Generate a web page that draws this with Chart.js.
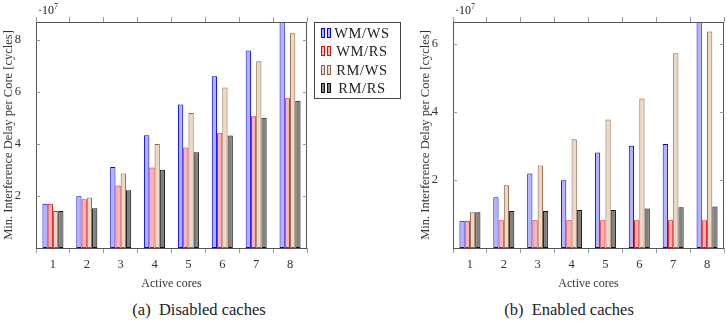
<!DOCTYPE html>
<html>
<head>
<meta charset="utf-8">
<script src="https://cdn.jsdelivr.net/npm/chart.js@4/dist/chart.umd.min.js"></script>
<style>
  body { margin: 0; background: #fff; width: 727px; height: 322px; position: relative; overflow: hidden;
         font-family: "Liberation Serif", "DejaVu Serif", serif; color: #222; }
  canvas { position: absolute; top: 0; }
  .exp { position: absolute; top: 2px; font-size: 12px; }
  .exp sup { font-size: 8px; }
  .caption { position: absolute; top: 300px; font-size: 16.5px; width: 300px; text-align: center; }
  #legend { position: absolute; left: 314px; top: 22px; width: 87px; height: 77px; border: 1px solid #444;
            box-sizing: border-box; font-size: 14.5px; padding-top: 1px; }
  #legend div { height: 18.3px; line-height: 18.3px; white-space: nowrap; padding-left: 6px; }
  #legend span { display: inline-block; width: 58px; text-align: center; letter-spacing: 0.6px; }
  #legend i { display: inline-block; width: 2px; height: 8px; margin-right: 2px; vertical-align: 0px;
              border: 1px solid; }
</style>
</head>
<body>
<canvas id="chartA" width="310" height="300" style="left:0"></canvas>
<canvas id="chartB" width="310" height="300" style="left:417px"></canvas>
<div class="exp" style="left:38px">·10<sup>7</sup></div>
<div class="exp" style="left:455px">·10<sup>7</sup></div>
<div id="legend"></div>
<div class="caption" style="left:49px">(a)&nbsp; Disabled caches</div>
<div class="caption" style="left:419px">(b)&nbsp; Enabled caches</div>
<script>
// categorie (core attivi) e serie, valori in unita' di 1e7 cicli
const cores = ['1', '2', '3', '4', '5', '6', '7', '8'];
const seriesNames = ['WM/WS', 'WM/RS', 'RM/WS', 'RM/RS'];

// (a) cache disabilitate
const disWMWS = [1.70, 1.99, 3.12, 4.34, 5.52, 6.61, 7.60, 8.70];
const disWMRS = [1.70, 1.88, 2.41, 3.10, 3.87, 4.42, 5.07, 5.76];
const disRMWS = [1.42, 1.94, 2.87, 4.00, 5.20, 6.18, 7.19, 8.27];
const disRMRS = [1.42, 1.53, 2.22, 3.01, 3.69, 4.33, 5.01, 5.67];

// (b) cache abilitate
const enWMWS = [0.80, 1.49, 2.19, 1.99, 2.81, 3.01, 3.06, 6.65];
const enWMRS = [0.80, 0.82, 0.82, 0.82, 0.82, 0.82, 0.82, 0.82];
const enRMWS = [1.05, 1.85, 2.43, 3.20, 3.78, 4.40, 5.73, 6.37];
const enRMRS = [1.05, 1.09, 1.09, 1.12, 1.12, 1.16, 1.20, 1.22];

// tick dell'asse y
const ticksA = [2, 4, 6, 8];
const ticksB = [2, 4, 6];

const fills = ['#b3b3ff', '#ffb0b0', '#ecd8c4', '#808080'];
const borders = ['#0000ee', '#e01010', '#8a6440', '#111111'];

// legenda HTML con le due barrette come in pgfplots
const legend = document.getElementById('legend');
seriesNames.forEach((name, i) => {
    const ico = `<i style="background:${fills[i]};border-color:${borders[i]}"></i>`;
    legend.innerHTML += `<div>${ico}${ico}<span>${name}</span></div>`;
});

// cornice e tacche interne sull'asse y
const framePlugin = {
    id: 'frame',
    afterDraw(chart) {
        const {ctx, chartArea: a} = chart;
        const y = chart.scales.y;
        ctx.save();
        ctx.strokeStyle = '#555';
        ctx.lineWidth = 1;
        ctx.strokeRect(a.left + 0.5, a.top + 0.5, a.right - a.left - 1, a.bottom - a.top);
        ctx.strokeStyle = '#999';
        y.ticks.forEach(t => {
            const py = Math.round(y.getPixelForValue(t.value)) + 0.5;
            ctx.beginPath();
            ctx.moveTo(a.left, py); ctx.lineTo(a.left + 4, py);
            ctx.moveTo(a.right - 4, py); ctx.lineTo(a.right, py);
            ctx.stroke();
        });
        ctx.restore();
    }
};

function makeChart(id, data, yMax, yTicks) {
    const font = {family: '"Liberation Serif", serif', size: 12.5};
    return new Chart(document.getElementById(id), {
        type: 'bar',
        data: {
            labels: cores,
            datasets: data.map((vals, i) => ({
                label: seriesNames[i],
                data: vals,
                backgroundColor: fills[i],
                borderColor: borders[i],
                borderWidth: 1,
                borderSkipped: false,
                barPercentage: 1,
                categoryPercentage: 0.62
            }))
        },
        options: {
            responsive: false,
            animation: false,
            devicePixelRatio: 1,
            layout: {padding: {left: 0, right: 3, top: 0, bottom: 0}},
            plugins: {legend: {display: false}, tooltip: {enabled: false}},
            scales: {
                x: {
                    type: 'category',
                    offset: true,
                    grid: {offset: true, drawOnChartArea: false, tickLength: 5, color: '#999'},
                    border: {display: false},
                    ticks: {font: font, color: '#333', padding: 4},
                    title: {display: true, text: 'Active cores', font: {family: font.family, size: 12},
                            color: '#333', padding: {top: 0, bottom: 9}},
                    afterFit: s => { s.height = 52; }
                },
                x2: {
                    type: 'category',
                    position: 'top',
                    offset: true,
                    grid: {offset: true, drawOnChartArea: false, tickLength: 5, color: '#999'},
                    border: {display: false},
                    ticks: {display: false},
                    afterFit: s => { s.height = 22; }
                },
                y: {
                    min: 0,
                    max: yMax,
                    grid: {display: false},
                    border: {display: false},
                    ticks: {font: font, color: '#333', padding: 7},
                    afterBuildTicks: s => { s.ticks = yTicks.map(v => ({value: v})); },
                    title: {display: true, text: 'Min. Interference Delay per Core [cycles]',
                            font: {family: font.family, size: 12.5}, color: '#333', padding: {top: 1, bottom: 0}},
                    afterFit: s => { s.width = 36; }
                }
            }
        },
        plugins: [framePlugin]
    });
}

makeChart('chartA', [disWMWS, disWMRS, disRMWS, disRMRS], 8.7, ticksA);
makeChart('chartB', [enWMWS, enWMRS, enRMWS, enRMRS], 6.65, ticksB);
</script>
</body>
</html>
